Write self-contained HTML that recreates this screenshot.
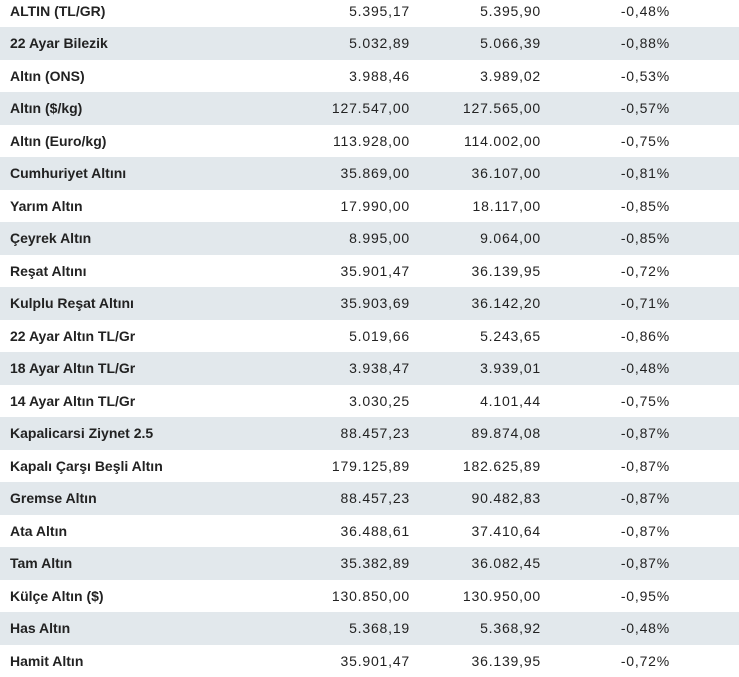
<!DOCTYPE html>
<html><head><meta charset="utf-8"><style>
html,body{margin:0;padding:0;background:#fff;width:739px;height:676px;overflow:hidden}
table{position:absolute;left:0;top:-5.5px;width:739px;border-collapse:collapse;font-family:"Liberation Sans",sans-serif;font-size:14px;color:#222}
tr{height:32.5px}
tr:nth-child(even){background:#e2e8ec}
td{padding:0;white-space:nowrap}
td.n{font-weight:bold;padding-left:10px;width:240px}
td.a{text-align:right;width:160px;letter-spacing:0.8px}
td.b{text-align:right;width:131px;letter-spacing:0.8px}
td.c{text-align:right;width:129px;letter-spacing:0.8px}
td.e{}
</style></head><body>
<table><tbody id="tb"></tbody></table>
<script>
const names=["ALTIN (TL/GR)","22 Ayar Bilezik","Altın (ONS)","Altın ($/kg)","Altın (Euro/kg)","Cumhuriyet Altını","Yarım Altın","Çeyrek Altın","Reşat Altını","Kulplu Reşat Altını","22 Ayar Altın TL/Gr","18 Ayar Altın TL/Gr","14 Ayar Altın TL/Gr","Kapalicarsi Ziynet 2.5","Kapalı Çarşı Beşli Altın","Gremse Altın","Ata Altın","Tam Altın","Külçe Altın ($)","Has Altın","Hamit Altın"];
const buys=["5.395,17","5.032,89","3.988,46","127.547,00","113.928,00","35.869,00","17.990,00","8.995,00","35.901,47","35.903,69","5.019,66","3.938,47","3.030,25","88.457,23","179.125,89","88.457,23","36.488,61","35.382,89","130.850,00","5.368,19","35.901,47"];
const sells=["5.395,90","5.066,39","3.989,02","127.565,00","114.002,00","36.107,00","18.117,00","9.064,00","36.139,95","36.142,20","5.243,65","3.939,01","4.101,44","89.874,08","182.625,89","90.482,83","37.410,64","36.082,45","130.950,00","5.368,92","36.139,95"];
const changes=["-0,48%","-0,88%","-0,53%","-0,57%","-0,75%","-0,81%","-0,85%","-0,85%","-0,72%","-0,71%","-0,86%","-0,48%","-0,75%","-0,87%","-0,87%","-0,87%","-0,87%","-0,87%","-0,95%","-0,48%","-0,72%"];
const tb=document.getElementById('tb');
names.forEach((n,i)=>{
  const tr=document.createElement('tr');
  
  
  const cells=[[n,'n','item-name'],[buys[i],'a','buy-price'],[sells[i],'b','sell-price'],[changes[i],'c','change-percent'],['','e','spacer']];
  cells.forEach(c=>{
    const td=document.createElement('td');
    td.className=c[1];
    td.textContent=c[0];
    
    
    tr.appendChild(td);
  });
  tb.appendChild(tr);
});
</script>
</body></html>
